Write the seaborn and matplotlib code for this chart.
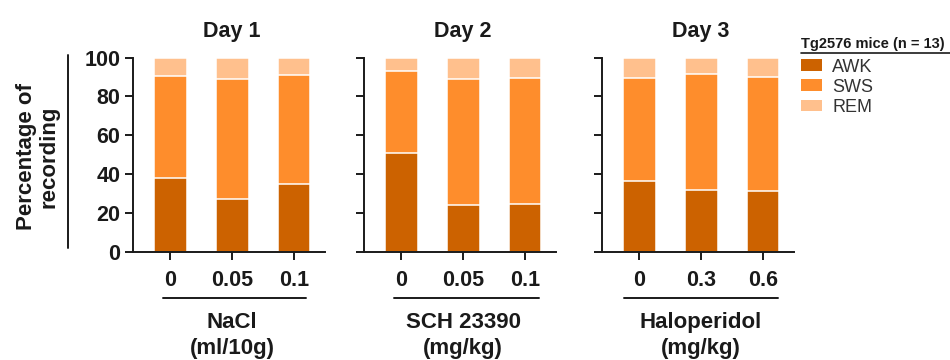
# Stacked sleep-stage bars for three drug days (Tg2576 mice)
import matplotlib.pyplot as plt
from matplotlib.patches import Patch
import pandas as pd
import seaborn as sns

# -----------------------------------------------------------------------
# Data (percent of recording)
days = ['Day 1', 'Day 2', 'Day 3']
doses = [['0', '0.05', '0.1'],
         ['0', '0.05', '0.1'],
         ['0', '0.3', '0.6']]
drug_names = ['NaCl', 'SCH 23390', 'Haloperidol']
drug_units = ['(ml/10g)', '(mg/kg)', '(mg/kg)']
stages = ['AWK', 'SWS', 'REM']
awk = [[38.0, 27.0, 35.0], [50.6, 24.3, 24.6], [36.2, 32.0, 31.0]]
sws = [[52.4, 62.0, 56.2], [42.4, 64.4, 65.0], [53.0, 59.3, 59.1]]
rem = [[9.6, 11.0, 8.8], [7.0, 11.3, 10.4], [10.8, 8.7, 9.9]]
legend_title = 'Tg2576 mice (n = 13)'
ylabel = 'Percentage of\nrecording'

colors = {'AWK': '#cc6200', 'SWS': '#fe8d2c', 'REM': '#ffc08d'}
ink = '#1a1a1a'

# -----------------------------------------------------------------------
# Long frame, columns: Day | Dose | Stage | Value | Top
# Top is the cumulative height used to stack the bars
rows = []
for i, day in enumerate(days):
    for j, dose in enumerate(doses[i]):
        top = 0
        for stage, vals in zip(stages, [awk, sws, rem]):
            top += vals[i][j]
            rows.append(dict(Day=day, Dose=dose, Stage=stage,
                             Value=vals[i][j], Top=top))
frame = pd.DataFrame(rows)
print(frame)

# -----------------------------------------------------------------------
sns.set_style('white')
plt.rcParams['font.family'] = ['Liberation Sans', 'DejaVu Sans']
plt.rcParams['font.weight'] = 'bold'
plt.rcParams['text.color'] = ink
plt.rcParams['xtick.color'] = ink
plt.rcParams['ytick.color'] = ink

fig = plt.figure(figsize=(9.5, 3.6), dpi=100)
lefts = [133, 364, 602]
line_span = [(-0.12, 2.2), (-0.12, 2.22), (-0.24, 2.24)]
W, H = 950, 360
bottom_px, top_px = 251.7, 57.5

for i, day in enumerate(days):
    ax = fig.add_axes([lefts[i] / W, 1 - bottom_px / H,
                       192 / W, (bottom_px - top_px) / H])
    sub = frame[frame.Day == day]
    # draw tallest layer first so lower layers sit on top
    for stage in reversed(stages):
        sns.barplot(data=sub[sub.Stage == stage], x='Dose', y='Top',
                    order=doses[i], color=colors[stage], saturation=1,
                    width=0.53, edgecolor='white', linewidth=1.1,
                    errorbar=None, ax=ax)
    ax.set_xlim(-0.6, 2.5)
    ax.set_ylim(0, 100)
    ax.set_yticks(range(0, 101, 20))
    ax.set_xlabel('')
    ax.set_ylabel('')
    sns.despine(ax=ax)
    for s in ['left', 'bottom']:
        ax.spines[s].set_linewidth(1.4)
        ax.spines[s].set_color(ink)
    ax.tick_params(axis='both', direction='out', length=6, width=1.4,
                   color=ink, labelsize=15.5, bottom=True, left=True)
    ax.tick_params(axis='x', pad=7)
    ax.tick_params(axis='y', pad=3)
    if i > 0:
        ax.set_yticklabels([])

    tr = ax.get_xaxis_transform()
    ax.text(1, 1.105, day, transform=tr, ha='center', va='baseline',
            fontsize=15.5, fontweight='bold')
    ax.plot(line_span[i], [-0.238, -0.238], transform=tr, color=ink,
            lw=1.4, clip_on=False)
    ax.text(1, -0.393, drug_names[i], transform=tr, ha='center',
            va='baseline', fontsize=16, fontweight='bold')
    ax.text(1, -0.527, drug_units[i], transform=tr, ha='center',
            va='baseline', fontsize=16, fontweight='bold')

# y label with the bar to its right
fig.text(37.5 / W, 1 - 157 / H, ylabel, rotation=90, ha='center',
         va='center', multialignment='center', fontsize=16,
         fontweight='bold', linespacing=1.1)
fig.add_artist(plt.Line2D([68 / W, 68 / W], [1 - 55 / H, 1 - 248 / H],
                          color=ink, lw=1.4))

# legend
fig.text(801 / W, 1 - 48 / H, legend_title, fontsize=10.5,
         fontweight='bold', ha='left', va='baseline')
fig.add_artist(plt.Line2D([801 / W, 950 / W], [1 - 52.5 / H, 1 - 52.5 / H],
                          color=ink, lw=1.2))
handles = [Patch(facecolor=colors[s], edgecolor='none') for s in stages]
fig.legend(handles, stages, loc='upper left',
           bbox_to_anchor=(801 / W, 1 - 58.5 / H), frameon=False,
           prop=dict(size=13, weight='normal'), labelcolor='#333333',
           handlelength=1.18, handleheight=0.6, handletextpad=0.56,
           labelspacing=0.17, borderpad=0, borderaxespad=0)

fig.savefig('out.png', dpi=100)
